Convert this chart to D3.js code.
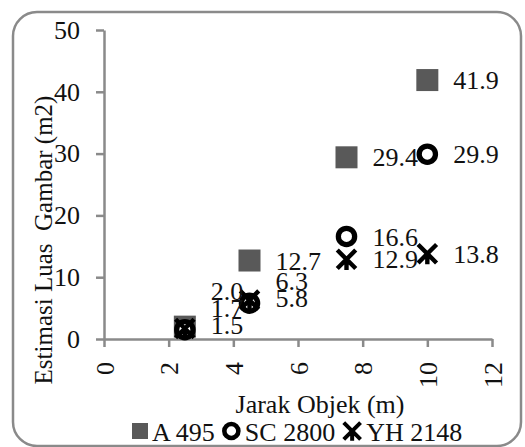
<!DOCTYPE html>
<html>
<head>
<meta charset="utf-8">
<script src="https://cdn.jsdelivr.net/npm/d3@7"></script>
<style>
  body { margin: 0; background: #fff; }
  svg text { font-family: "Liberation Serif", "Times New Roman", serif; fill: #111; }
</style>
</head>
<body>
<div id="chart"></div>
<script>
// jarak (m) and estimated area per camera
var distances = [2.5, 4.5, 7.5, 10];
var seriesNames = ['A 495', 'SC 2800', 'YH 2148'];
var a495 = [2.0, 12.7, 29.4, 41.9];
var sc2800 = [1.5, 5.8, 16.6, 29.9];
var yh2148 = [1.7, 6.3, 12.9, 13.8];
var xTicks = [0, 2, 4, 6, 8, 10, 12];
var yTicks = [0, 10, 20, 30, 40, 50];

var W = 525, H = 447;
var fontSize = '26px';
var svg = d3.select('#chart').append('svg')
    .attr('width', W)
    .attr('height', H);

// outer rounded frame
svg.append('rect')
    .attr('x', 13).attr('y', 12)
    .attr('width', 508).attr('height', 434)
    .attr('rx', 24).attr('ry', 24)
    .style('fill', 'none')
    .style('stroke', '#8a8a8a')
    .style('stroke-width', 2.5);

var x = d3.scaleLinear().domain([0, 12]).range([104, 492]);
var y = d3.scaleLinear().domain([0, 50]).range([339, 30]);

var axisColor = '#8a8a8a';

var gy = svg.append('g')
    .attr('transform', 'translate(' + x(0) + ',0)')
    .call(d3.axisLeft(y).tickValues(yTicks).tickSize(8).tickSizeOuter(0).tickPadding(16));
var gx = svg.append('g')
    .attr('transform', 'translate(0,' + y(0) + ')')
    .call(d3.axisBottom(x).tickValues(xTicks).tickSize(8).tickSizeOuter(0));

[gy, gx].forEach(function(g) {
    g.select('.domain').style('stroke', axisColor).style('stroke-width', 2.5);
    g.selectAll('.tick line').style('stroke', axisColor).style('stroke-width', 2.5);
    g.selectAll('.tick text')
        .style('font-family', '"Liberation Serif", serif')
        .style('font-size', fontSize)
        .style('fill', '#111');
});

gx.selectAll('.tick text')
    .attr('transform', 'rotate(-90)')
    .attr('x', -23)
    .attr('y', 0)
    .attr('dy', '0.35em')
    .style('text-anchor', 'end');

// axis titles
svg.append('text')
    .attr('transform', 'translate(52,240) rotate(-90)')
    .style('text-anchor', 'middle')
    .style('font-size', '25px')
    .style('white-space', 'pre')
    .text('Estimasi Luas  Gambar (m2)');

svg.append('text')
    .attr('x', 320).attr('y', 413)
    .style('text-anchor', 'middle')
    .style('font-size', fontSize)
    .text('Jarak Objek (m)');

// markers
function drawMarker(g, kind, size) {
    if (kind === 0) {
        g.append('rect')
            .attr('x', -size / 2).attr('y', -size / 2)
            .attr('width', size).attr('height', size)
            .style('fill', '#595959');
    } else if (kind === 1) {
        g.append('circle')
            .attr('r', size * 0.37)
            .style('fill', '#fff')
            .style('stroke', '#000')
            .style('stroke-width', size * 0.24);
    } else {
        var s = size * 0.42;
        g.append('path')
            .attr('d', 'M' + (-s) + ',' + (-s) + 'L' + s + ',' + s +
                       'M' + s + ',' + (-s) + 'L' + (-s) + ',' + s +
                       'M0,0L0,' + (s * 1.15))
            .style('fill', 'none')
            .style('stroke', '#000')
            .style('stroke-width', size * 0.2);
    }
}

var allSeries = [a495, sc2800, yh2148];

allSeries.forEach(function(vals, si) {
    var g = svg.append('g');
    vals.forEach(function(v, i) {
        var m = g.append('g')
            .attr('transform', 'translate(' + x(distances[i]) + ',' + y(v) + ')');
        drawMarker(m, si, 22);
    });
});

// data labels, nudged apart where they pile up at the same distance
var labels = [];
allSeries.forEach(function(vals, si) {
    vals.forEach(function(v, i) {
        labels.push({ d: distances[i], v: v, ly: y(v) });
    });
});
var gap = 17;
d3.groups(labels, function(l) { return l.d; }).forEach(function(grp) {
    var ls = grp[1].slice().sort(function(a, b) { return b.ly - a.ly; });
    if (ls.length > 1 && ls[0].ly - ls[1].ly < gap) ls[0].ly -= 5;
    for (var k = 1; k < ls.length; k++) {
        if (ls[k - 1].ly - ls[k].ly < gap) ls[k].ly = ls[k - 1].ly - gap;
    }
});

svg.append('g').selectAll('text')
    .data(labels)
    .join('text')
    .attr('x', function(d) { return x(d.d) + 26; })
    .attr('y', function(d) { return d.ly; })
    .attr('dy', '0.35em')
    .style('font-size', fontSize)
    .text(function(d) { return d.v.toFixed(1); });

// legend
var legend = svg.append('g');
var lx = 132;
var legendSizes = [16, 19, 20];
seriesNames.forEach(function(name, si) {
    var ms = legendSizes[si];
    var m = legend.append('g').attr('transform', 'translate(' + (lx + ms / 2) + ',431)');
    drawMarker(m, si, ms);
    var t = legend.append('text')
        .attr('x', lx + ms + 4)
        .attr('y', 441)
        .style('font-size', fontSize)
        .text(name);
    lx = lx + ms + 4 + t.node().getComputedTextLength() + 7;
});
</script>
</body>
</html>
